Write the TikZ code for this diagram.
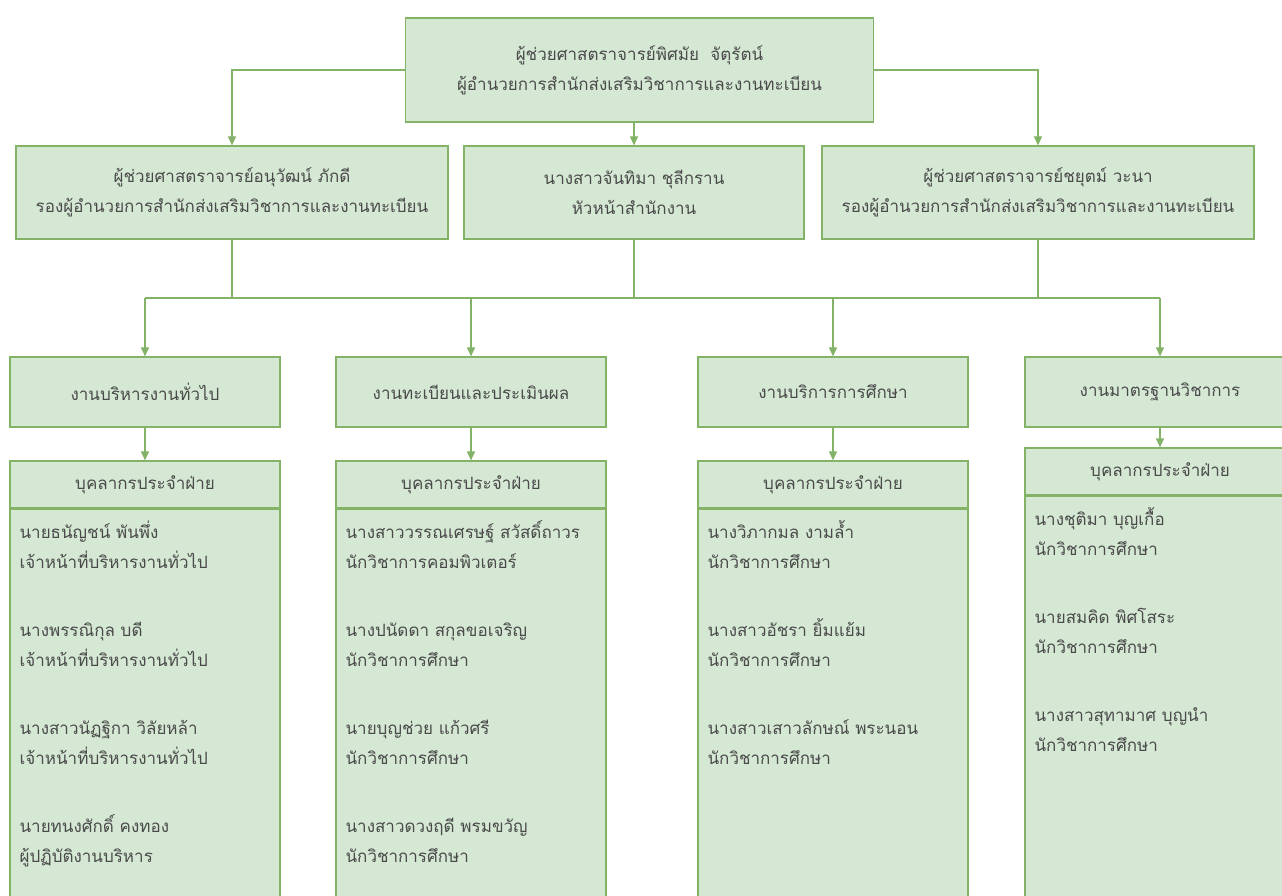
\documentclass[tikz,border=0pt]{standalone}
\usepackage{fontspec}
\newfontfamily\thaifont[Script=Thai]{Loma}
\usetikzlibrary{arrows.meta}
\definecolor{boxfill}{HTML}{D5E8D4}
\definecolor{boxline}{HTML}{82B366}
\definecolor{txtgray}{HTML}{4A4A4A}
\tikzset{
  unitbox/.style={draw=boxline, fill=boxfill, line width=1.2pt, text=txtgray, align=center, inner sep=0pt},
  namelist/.style={text=txtgray, align=left, inner sep=0pt, anchor=north west},
  link/.style={draw=boxline, line width=1.2pt},
  arr/.style={link, -{Triangle[length=9pt,width=8pt]}},
}
\begin{document}
\begin{tikzpicture}[x=1pt,y=-1pt, font=\thaifont\fontsize{17}{30}\selectfont]
	\useasboundingbox (0,0) rectangle (1282,896);

	% top of the office
	\node[unitbox, minimum width=468pt, minimum height=104pt] (head) at (639.5,70)
		{ผู้ช่วยศาสตราจารย์พิศมัย\ \ จัตุรัตน์\\ผู้อำนวยการสำนักส่งเสริมวิชาการและงานทะเบียน};

	% deputies and office head
	\node[unitbox, minimum width=432pt, minimum height=93pt] (depA) at (232,192.5)
		{ผู้ช่วยศาสตราจารย์อนุวัฒน์ ภักดี\\รองผู้อำนวยการสำนักส่งเสริมวิชาการและงานทะเบียน};
	\node[unitbox, minimum width=340pt, minimum height=93pt] (depB) at (634,192.5)
		{นางสาวจันทิมา ชุลีกราน\\หัวหน้าสำนักงาน};
	\node[unitbox, minimum width=432pt, minimum height=93pt] (depC) at (1038,192.5)
		{ผู้ช่วยศาสตราจารย์ชยุตม์ วะนา\\รองผู้อำนวยการสำนักส่งเสริมวิชาการและงานทะเบียน};

	% work units
	\node[unitbox, minimum width=270pt, minimum height=70pt] (unitA) at (145,392) {งานบริหารงานทั่วไป};
	\node[unitbox, minimum width=270pt, minimum height=70pt] (unitB) at (471,392) {งานทะเบียนและประเมินผล};
	\node[unitbox, minimum width=270pt, minimum height=70pt] (unitC) at (833,392) {งานบริการการศึกษา};
	\node[unitbox, minimum width=270pt, minimum height=70pt] (unitD) at (1160,392) {งานมาตรฐานวิชาการ};

	% staff headers
	\node[unitbox, minimum width=270pt, minimum height=47pt] (crewA) at (145,484.5) {บุคลากรประจำฝ่าย};
	\node[unitbox, minimum width=270pt, minimum height=47pt] (crewB) at (471,484.5) {บุคลากรประจำฝ่าย};
	\node[unitbox, minimum width=270pt, minimum height=47pt] (crewC) at (833,484.5) {บุคลากรประจำฝ่าย};
	\node[unitbox, minimum width=270pt, minimum height=47pt] (crewD) at (1160,471.5) {บุคลากรประจำฝ่าย};

	% staff lists (run past the bottom edge)
	\node[unitbox, minimum width=270pt, minimum height=400pt, anchor=north] (listA) at (crewA.south) {};
	\node[unitbox, minimum width=270pt, minimum height=400pt, anchor=north] (listB) at (crewB.south) {};
	\node[unitbox, minimum width=270pt, minimum height=400pt, anchor=north] (listC) at (crewC.south) {};
	\node[unitbox, minimum width=270pt, minimum height=420pt, anchor=north] (listD) at (crewD.south) {};

	\node[namelist] (namesA) at ([shift={(10,12)}]listA.north west)
		{นายธนัญชน์ พันพึ่ง\\เจ้าหน้าที่บริหารงานทั่วไป\\[38pt]
		 นางพรรณิกุล บดี\\เจ้าหน้าที่บริหารงานทั่วไป\\[38pt]
		 นางสาวนัฏฐิกา วิลัยหล้า\\เจ้าหน้าที่บริหารงานทั่วไป\\[38pt]
		 นายทนงศักดิ์ คงทอง\\ผู้ปฏิบัติงานบริหาร};
	\node[namelist] (namesB) at ([shift={(10,12)}]listB.north west)
		{นางสาววรรณเศรษฐ์ สวัสดิ์ถาวร\\นักวิชาการคอมพิวเตอร์\\[38pt]
		 นางปนัดดา สกุลขอเจริญ\\นักวิชาการศึกษา\\[38pt]
		 นายบุญช่วย แก้วศรี\\นักวิชาการศึกษา\\[38pt]
		 นางสาวดวงฤดี พรมขวัญ\\นักวิชาการศึกษา};
	\node[namelist] (namesC) at ([shift={(10,12)}]listC.north west)
		{นางวิภากมล งามล้ำ\\นักวิชาการศึกษา\\[38pt]
		 นางสาวอัชรา ยิ้มแย้ม\\นักวิชาการศึกษา\\[38pt]
		 นางสาวเสาวลักษณ์ พระนอน\\นักวิชาการศึกษา};
	\node[namelist] (namesD) at ([shift={(10,12)}]listD.north west)
		{นางชุติมา บุญเกื้อ\\นักวิชาการศึกษา\\[38pt]
		 นายสมคิด พิศโสระ\\นักวิชาการศึกษา\\[38pt]
		 นางสาวสุทามาศ บุญนำ\\นักวิชาการศึกษา};

	% connectors
	\coordinate (bus) at (0,298);
	\draw[arr] (head.west) -| (depA.north);
	\draw[arr] (head.east) -| (depC.north);
	\draw[arr] (head.south -| depB.north) -- (depB.north);
	\draw[link] (depA.south) -- (depA.south |- bus);
	\draw[link] (depB.south) -- (depB.south |- bus);
	\draw[link] (depC.south) -- (depC.south |- bus);
	\draw[link] (unitA.north |- bus) -- (unitD.north |- bus);
	\draw[arr] (unitA.north |- bus) -- (unitA.north);
	\draw[arr] (unitB.north |- bus) -- (unitB.north);
	\draw[arr] (unitC.north |- bus) -- (unitC.north);
	\draw[arr] (unitD.north |- bus) -- (unitD.north);
	\draw[arr] (unitA) -- (crewA);
	\draw[arr] (unitB) -- (crewB);
	\draw[arr] (unitC) -- (crewC);
	\draw[arr] (unitD) -- (crewD);
\end{tikzpicture}
\end{document}
